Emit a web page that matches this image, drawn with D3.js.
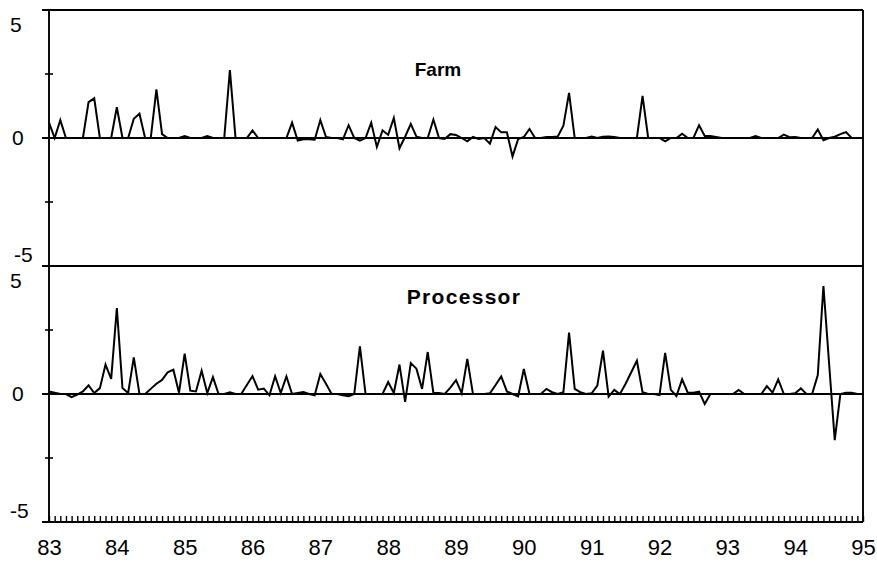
<!DOCTYPE html>
<html>
<head>
<meta charset="utf-8">
<script src="https://cdn.jsdelivr.net/npm/d3@7"></script>
<style>
  body { margin: 0; background: #fff; }
  svg { display: block; }
  text { font-family: "Liberation Sans", Arial, sans-serif; fill: #000; }
</style>
</head>
<body>
<svg id="chart" width="877" height="563"></svg>
<script>
// Monthly values, end of Dec 82 .. end of Dec 94 (145 points)
const farm = [
  0.6, 0, 0.7, 0, 0, 0, 0, 1.4, 1.55, 0,
  0, 0, 1.2, 0, 0, 0.75, 0.95, 0, 0, 1.9,
  0.15, 0, 0, 0, 0.08, 0, 0, 0, 0.08, 0,
  0, 0, 2.65, 0, 0, 0, 0.3, 0, 0, 0,
  0, 0, 0, 0.6, -0.1, -0.05, -0.05, -0.07, 0.7, 0.04,
  0, 0, -0.05, 0.5, 0, -0.1, 0, 0.6, -0.35, 0.3,
  0.12, 0.78, -0.4, 0.05, 0.55, 0.05, 0, 0, 0.72, 0,
  -0.04, 0.15, 0.12, 0, -0.13, 0.04, -0.04, 0, -0.22, 0.43,
  0.22, 0.22, -0.72, -0.04, 0.04, 0.35, 0, 0, 0.04, 0.04,
  0.06, 0.48, 1.76, 0, 0, 0, 0.06, 0, 0.05, 0.06,
  0.04, 0, 0, 0, 0, 1.65, 0, 0, 0, -0.13,
  0, 0, 0.17, 0, 0, 0.5, 0.08, 0.08, 0.04, 0,
  0, 0, 0, 0, 0, 0.08, 0, 0, 0, 0,
  0.13, 0.03, 0.04, 0, 0, 0, 0.33, -0.09, 0, 0.05,
  0.15, 0.23, 0, 0, 0
]

const processor = [
  0.1, 0.05, 0, 0, -0.12, -0.02, 0.1, 0.34, 0.04, 0.23,
  1.15, 0.59, 3.36, 0.23, 0.04, 1.43, 0, 0, 0.2, 0.4,
  0.55, 0.85, 0.95, 0.05, 1.58, 0.13, 0.1, 0.91, 0.04, 0.66,
  0, 0, 0.07, 0, 0, 0.35, 0.7, 0.17, 0.21, -0.05,
  0.69, 0.04, 0.69, 0, 0.04, 0.08, 0, -0.05, 0.78, 0.4,
  0, 0, -0.05, -0.09, 0, 1.86, 0, 0, 0, 0,
  0.47, 0.04, 1.15, -0.31, 1.21, 0.99, 0.2, 1.64, 0.04, 0.04,
  0, 0.25, 0.54, 0.03, 1.37, 0, 0, 0, 0.03, 0.35,
  0.69, 0.1, 0, -0.09, 0.98, 0, 0, 0, 0.2, 0.07,
  0, 0.07, 2.4, 0.2, 0.07, 0, 0.03, 0.33, 1.69, -0.1,
  0.16, 0, 0.4, 0.85, 1.3, 0.07, 0, 0, -0.04, 1.61,
  0.16, -0.08, 0.57, 0.05, 0.05, 0.09, -0.39, 0, 0, 0,
  0, 0, 0.16, 0, 0, 0, 0, 0.31, 0.05, 0.57,
  0, 0, 0.03, 0.22, 0, 0, 0.74, 4.22, 1.2, -1.8,
  0, 0.05, 0.05, 0, 0
]

const panelNames = ["Farm", "Processor"]
const panelSeries = [farm, processor]
const years = d3.range(83, 96)
const yLabelTicks = [5, 0, -5]
const yMinorTicks = [2.5, -2.5]

// Layout
const margin = { left: 49, right: 863, top: 10 }
const panelH = 256
const plotBottom = margin.top + panelH * 2
const titleStyle = [
  { x: 438, y: 76, size: 19, spacing: 0 },
  { x: 464, y: 304, size: 21, spacing: 1.3 }
]

const svg = d3.select("#chart")

const x = d3.scaleLinear()
  .domain([83, 95])
  .range([margin.left, margin.right])

const line = y => d3.line()
  .x((d, i) => x(83 + i / 12))
  .y(d => y(d))

panelSeries.forEach((values, k) => {
  let y0 = margin.top + panelH * k
  let y = d3.scaleLinear()
    .domain([-5, 5])
    .range([y0 + panelH, y0])

  let g = svg.append("g").attr("class", "panel")

  // top border / divider and zero line
  g.selectAll("line.hline")
    .data([5, 0])
    .join("line")
    .attr("class", "hline")
    .attr("x1", margin.left - 7)
    .attr("x2", margin.right)
    .attr("y1", d => y(d))
    .attr("y2", d => y(d))
    .attr("stroke", "#000")
    .attr("stroke-width", 1.9)

  // minor ticks crossing the axis
  g.selectAll("line.ytick")
    .data(yMinorTicks)
    .join("line")
    .attr("class", "ytick")
    .attr("x1", margin.left - 4)
    .attr("x2", margin.left + 4)
    .attr("y1", d => y(d))
    .attr("y2", d => y(d))
    .attr("stroke", "#000")
    .attr("stroke-width", 1.6)

  // y labels
  g.selectAll("text.ylab")
    .data(yLabelTicks)
    .join("text")
    .attr("class", "ylab")
    .attr("x", d => (k === 0 && d === -5) ? 14 : d === 0 ? 12 : 10)
    .attr("y", d => y(d))
    .attr("dy", d => d === 5 ? 22 : d === 0 ? 7 : -4)
    .attr("font-size", 21)
    .text(d => d)

  g.append("path")
    .datum(values)
    .attr("fill", "none")
    .attr("stroke", "#000")
    .attr("stroke-width", 2)
    .attr("stroke-linejoin", "miter")
    .attr("d", line(y))

  g.append("text")
    .attr("x", titleStyle[k].x)
    .attr("y", titleStyle[k].y)
    .attr("text-anchor", "middle")
    .attr("font-size", titleStyle[k].size)
    .attr("font-weight", "bold")
    .attr("letter-spacing", titleStyle[k].spacing)
    .text(panelNames[k])
})

// left axis and right border
svg.selectAll("line.vline")
  .data([margin.left, margin.right])
  .join("line")
  .attr("class", "vline")
  .attr("x1", d => d)
  .attr("x2", d => d)
  .attr("y1", margin.top)
  .attr("y2", plotBottom)
  .attr("stroke", "#000")
  .attr("stroke-width", 1.9)

// monthly ticks
const months = d3.range(0, 145).map(i => 83 + i / 12)
const monthAxis = d3.axisBottom(x)
  .tickValues(months)
  .tickSize(-6)
  .tickSizeOuter(0)
  .tickFormat("")

svg.append("g")
  .attr("transform", `translate(0,${plotBottom})`)
  .call(monthAxis)
  .call(g => g.select(".domain").remove())
  .call(g => g.selectAll(".tick line").attr("stroke-width", 1.4))

svg.append("line")
  .attr("x1", margin.left - 7)
  .attr("x2", margin.right)
  .attr("y1", plotBottom)
  .attr("y2", plotBottom)
  .attr("stroke", "#000")
  .attr("stroke-width", 2)

// year labels
const yearAxis = d3.axisBottom(x)
  .tickValues(years)
  .tickSize(0)
  .tickPadding(0)
  .tickFormat(d => d)

svg.append("g")
  .attr("transform", `translate(0,${plotBottom})`)
  .call(yearAxis)
  .call(g => g.select(".domain").remove())
  .call(g => g.selectAll(".tick text")
    .attr("dy", 33)
    .attr("y", 0)
    .attr("font-size", 22)
    .attr("font-family", "'Liberation Sans', Arial, sans-serif")
    .attr("fill", "#000"))
</script>
</body>
</html>
